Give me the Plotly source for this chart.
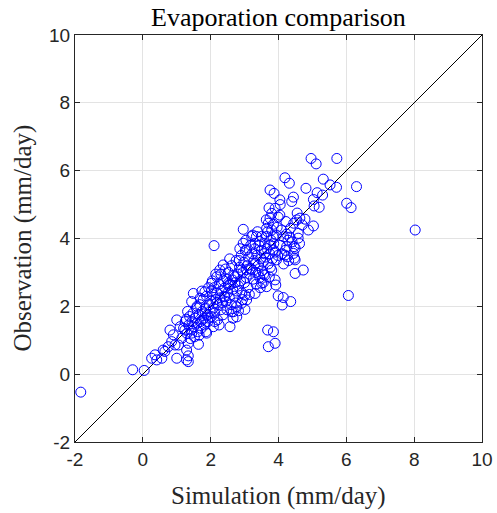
import plotly.graph_objects as go

simulation = [
    -1.83, -0.30, 0.04, 0.26, 0.41, 0.56, 0.36, 0.60, 0.75, 1.00, 1.29, 1.34, 1.29, 1.64, 0.85, 0.90,
    1.05, 1.15, 0.80, 1.00, 1.10, 1.24, 1.44, 1.34, 0.65, 0.95, 1.34, 1.88,
    1.44, 1.69, 1.49, 1.83, 2.03, 2.18, 2.27, 2.37, 2.10, 2.96, 2.96, 3.06, 3.21, 3.35, 3.31, 3.45,
    3.60, 3.75, 3.50, 3.65, 3.65, 3.80, 3.70, 3.85, 3.96, 3.75, 3.99, 3.80, 3.90, 3.75, 3.87, 4.04,
    4.19, 4.32, 4.44, 4.39, 4.09, 4.24, 4.54, 4.34, 4.58, 4.04, 4.63, 4.78, 5.03, 4.88, 4.58, 3.85,
    4.24, 4.46, 4.49, 4.47, 4.26, 4.73, 4.49, 4.19, 4.44, 4.49, 3.94,
    4.96, 5.11, 5.72, 5.32, 5.52, 5.71, 6.30, 4.81, 5.14, 5.30, 5.03, 5.05, 5.20, 6.01, 6.14,
    8.03, 6.06,
    3.99, 4.14, 4.36, 4.11, 3.68, 3.85, 3.70, 3.90, 3.92, 3.73, 3.55, 3.31, 3.01, 3.06, 2.91, 2.77,
    2.67, 2.57, 2.77, 2.62, 3.01, 2.82, 3.50, 3.65, 3.90, 3.60, 3.40, 3.80, 3.31, 3.16, 2.91, 2.72,
    2.52, 2.42,
    1.20, 1.25, 1.30, 1.35, 1.38, 1.42, 1.45, 1.48, 1.50, 1.52, 1.55, 1.58, 1.60, 1.62, 1.40, 1.32, 1.28,
    1.65, 1.68, 1.70, 1.72, 1.75, 1.78, 1.80, 1.82, 1.85, 1.88, 1.90, 1.92, 1.95, 1.98, 1.66, 1.74,
    1.86, 1.94, 1.60, 1.76, 1.84, 1.96,
    2.00, 2.02, 2.05, 2.08, 2.10, 2.12, 2.15, 2.18, 2.20, 2.22, 2.25, 2.28, 2.30, 2.32, 2.35, 2.38,
    2.40, 2.05, 2.15, 2.25, 2.12, 2.30, 2.02, 2.18, 2.36, 2.08,
    2.42, 2.45, 2.48, 2.50, 2.52, 2.55, 2.58, 2.60, 2.62, 2.65, 2.68, 2.70, 2.72, 2.75, 2.78, 2.44,
    2.56, 2.66, 2.48, 2.74, 2.52, 2.64,
    2.80, 2.82, 2.85, 2.88, 2.90, 2.92, 2.95, 2.98, 3.00, 3.02, 3.05, 3.08, 3.10, 3.12, 3.15, 3.18,
    3.20, 2.86, 3.04, 2.94, 3.14, 2.84, 3.06,
    3.22, 3.25, 3.28, 3.30, 3.33, 3.36, 3.40, 3.42, 3.45, 3.48, 3.50, 3.52, 3.55, 3.58, 3.24, 3.38,
    3.46, 3.56, 3.34,
    3.62, 3.66, 3.70, 3.74, 3.78, 3.82, 3.86, 3.90, 3.94, 3.98, 3.64, 3.72, 3.68, 3.84, 3.76,
    4.05, 4.10, 4.15, 4.20, 4.28, 4.35, 4.40, 4.15, 4.30, 4.62, 4.70, 4.55, 4.45, 4.22, 4.05,
]
observation = [
    -0.53, 0.13, 0.11, 0.47, 0.42, 0.47, 0.57, 0.71, 0.81, 0.47, 0.42, 0.54, 0.71, 0.88, 0.96, 1.16,
    0.86, 1.06, 1.30, 1.60, 1.40, 1.30, 1.21, 0.91, 0.67, 0.86, 0.37, 1.21,
    2.14, 2.24, 2.38, 2.43, 2.68, 2.87, 3.07, 3.22, 3.79, 4.27, 3.86, 3.66, 4.06, 4.06, 3.86, 3.91,
    3.86, 3.81, 4.06, 4.06, 4.30, 4.25, 4.45, 4.42, 4.33, 4.60, 4.63, 4.74, 4.89, 5.43, 5.33, 5.14,
    5.79, 5.63, 5.22, 5.09, 4.25, 4.13, 4.55, 4.04, 4.01, 4.69, 4.60, 4.57, 4.37, 4.25, 4.15, 3.66,
    3.76, 3.76, 3.71, 3.42, 3.46, 3.07, 2.97, 3.51, 3.56, 3.37, 3.37,
    6.36, 6.20, 6.36, 5.75, 5.58, 5.51, 5.53, 5.48, 5.35, 5.28, 5.15, 4.96, 4.92, 5.04, 4.91,
    4.25, 2.32,
    2.31, 2.26, 2.14, 2.04, 1.30, 1.25, 0.81, 0.91, 2.63, 2.87, 2.70, 2.38, 2.33, 2.19, 2.09, 1.99,
    1.84, 1.40, 1.69, 1.84, 1.91, 1.87, 2.68, 2.58, 2.78, 2.92, 2.97, 3.07, 3.27, 3.12, 3.07, 2.87,
    2.68, 2.28,
    1.35, 1.55, 1.20, 1.45, 1.70, 1.30, 1.55, 1.80, 1.40, 1.10, 1.65, 1.95, 1.50, 1.25, 1.05, 1.85, 1.62,
    1.75, 2.05, 1.55, 1.35, 1.85, 2.20, 1.65, 1.45, 1.95, 2.30, 1.75, 1.55, 2.05, 1.85, 1.15, 2.45,
    1.25, 2.55, 2.00, 1.60, 1.78, 1.65,
    2.15, 1.70, 2.35, 1.95, 2.55, 1.80, 2.20, 2.40, 1.60, 2.05, 2.65, 2.25, 1.90, 2.45, 2.10, 2.75,
    2.30, 2.75, 2.95, 1.45, 1.55, 2.95, 2.45, 2.10, 1.75, 1.40,
    2.55, 2.15, 2.80, 2.40, 3.00, 2.25, 2.65, 2.05, 3.20, 2.50, 2.90, 2.30, 2.70, 3.35, 2.45, 3.10,
    3.40, 1.65, 1.90, 2.10, 2.62, 2.78,
    2.95, 2.60, 3.15, 2.75, 3.50, 2.40, 3.00, 3.30, 2.70, 3.65, 2.85, 3.20, 2.55, 3.45, 2.95, 3.80,
    3.10, 3.70, 3.95, 2.20, 2.35, 3.35, 3.08,
    3.55, 2.80, 3.35, 3.70, 3.00, 3.50, 3.20, 3.80, 2.85, 3.40, 3.65, 3.05, 3.30, 3.55, 4.10, 4.20,
    2.55, 2.95, 2.65,
    3.45, 3.70, 3.25, 3.55, 3.95, 3.40, 3.85, 3.60, 4.10, 3.50, 4.55, 4.90, 4.20, 4.05, 3.15,
    3.80, 3.55, 4.05, 3.65, 3.95, 4.30, 3.90, 3.25, 3.35, 3.85, 4.40, 4.75, 4.45, 4.50, 5.00,
]

diag_line = [-2, 10]
tick_values = [-2, 0, 2, 4, 6, 8, 10]
tick_labels = ["-2", "0", "2", "4", "6", "8", "10"]

fig = go.Figure()
fig.add_trace(go.Scatter(
    x=diag_line, y=diag_line, mode="lines",
    line=dict(color="black", width=1), hoverinfo="skip", showlegend=False,
))
fig.add_trace(go.Scatter(
    x=simulation, y=observation, mode="markers",
    marker=dict(symbol="circle-open", size=10, color="#0000ff", line=dict(width=1, color="#0000ff")),
    showlegend=False,
))

axis_common = dict(
    range=[-2, 10], tickmode="array", tickvals=tick_values, ticktext=tick_labels,
    showgrid=True, gridcolor="#e3e3e3", gridwidth=1, automargin=False,
    zeroline=False, showline=True, linecolor="#262626", linewidth=1, mirror="ticks",
    ticks="inside", ticklen=5, tickcolor="#262626",
    tickfont=dict(family="Liberation Sans, Arial", size=19, color="#262626"),
)

serif = "Liberation Serif, Times New Roman"
fig.update_layout(
    width=497, height=513,
    margin=dict(l=75, r=15, t=35, b=71),
    paper_bgcolor="white", plot_bgcolor="white",
    xaxis=axis_common,
    yaxis=axis_common,
    annotations=[
        dict(text="Evaporation comparison", xref="paper", yref="paper", x=0.5, y=1.044,
             xanchor="center", yanchor="middle", showarrow=False,
             font=dict(family=serif, size=26, color="black")),
        dict(text="Simulation (mm/day)", xref="paper", yref="paper", x=0.5, y=-0.133,
             xanchor="center", yanchor="middle", showarrow=False,
             font=dict(family=serif, size=25, color="#262626")),
        dict(text="Observation (mm/day)", xref="paper", yref="paper", x=-0.13, y=0.5,
             xanchor="center", yanchor="middle", showarrow=False, textangle=-90,
             font=dict(family=serif, size=25, color="#262626")),
    ],
)

fig.write_html("out.html", config={"displayModeBar": False},
               post_script="document.body.style.margin='0';")
